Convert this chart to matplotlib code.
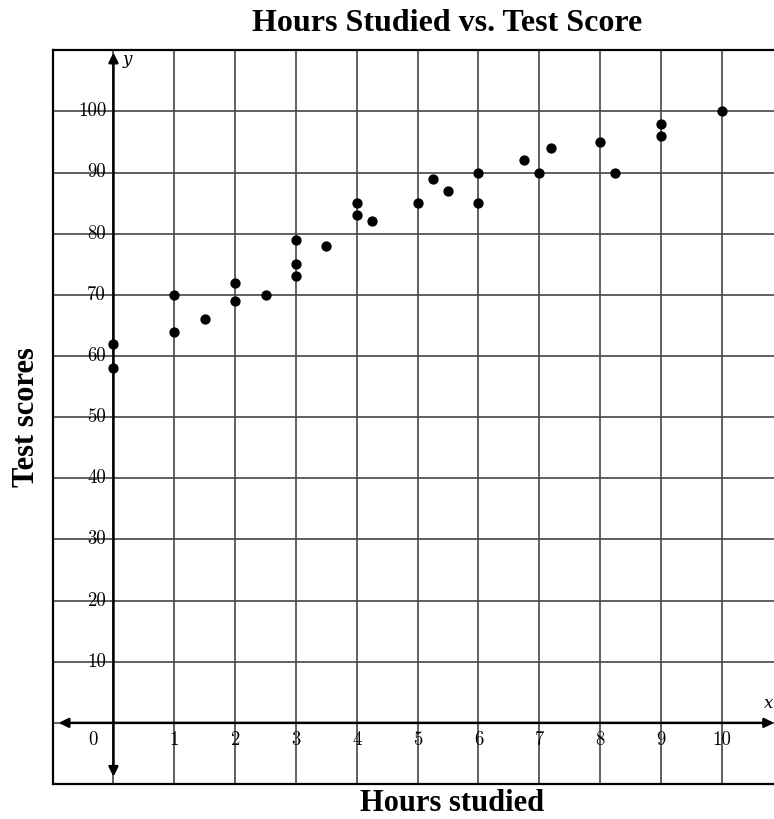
import matplotlib
matplotlib.use("Agg")
import matplotlib.pyplot as plt

# data
hours = [0, 0, 1, 1, 1.5, 2, 2, 2.5, 3, 3, 3, 3.5, 4, 4, 4.25,
         5, 5.25, 5.5, 6, 6, 6.75, 7, 7.2, 8, 8.25, 9, 9, 10]
scores = [62, 58, 70, 64, 66, 72, 69, 70, 79, 75, 73, 78, 85, 83, 82,
          85, 89, 87, 90, 85, 92, 90, 94, 95, 90, 98, 96, 100]

x_ticks = [0, 1, 2, 3, 4, 5, 6, 7, 8, 9, 10]
y_ticks = [10, 20, 30, 40, 50, 60, 70, 80, 90, 100]

title = "Hours Studied vs. Test Score"
xlabel = "Hours studied"
ylabel = "Test scores"

fig = plt.figure(figsize=(7.74, 8.19), dpi=100)
ax = fig.add_axes([0.068, 0.0427, 0.932, 0.896])
ax.set_xlim(-1, 10.86)
ax.set_ylim(-10, 110)

# grid
ax.set_xticks(range(-1, 11))
ax.set_yticks(range(-10, 111, 10))
ax.grid(True, color="#454545", lw=1.2)
ax.tick_params(length=0, labelbottom=False, labelleft=False)
for side in ["left", "top", "bottom"]:
    ax.spines[side].set_linewidth(1.6)
    ax.spines[side].set_color("black")
ax.spines["right"].set_visible(False)

# axes with arrows
ax.annotate("", xy=(10.86, 0), xytext=(-0.9, 0),
            arrowprops=dict(arrowstyle="<|-|>", color="black", lw=1.8,
                            mutation_scale=14, shrinkA=0, shrinkB=0))
ax.annotate("", xy=(0, 109.6), xytext=(0, -8.8),
            arrowprops=dict(arrowstyle="<|-|>", color="black", lw=1.8,
                            mutation_scale=14, shrinkA=0, shrinkB=0))
ax.text(0.15, 108.4, "y", fontsize=12, family="DejaVu Serif", style="italic",
        ha="left", va="center")
ax.text(10.85, 3.2, "x", fontsize=12, family="DejaVu Serif", style="italic",
        ha="right", va="center")

# tick labels
for v in y_ticks:
    ax.text(-0.12, v, str(v), fontsize=13.5, family="cmr10",
            ha="right", va="center")
for v in x_ticks:
    xp = -0.34 if v == 0 else v
    ax.text(xp, -2.8, str(v), fontsize=13.5, family="cmr10",
            ha="center", va="center")

# points
ax.plot(hours, scores, "o", color="black", ms=6.4, zorder=5)

fig.text(447 / 774, 1 - 31 / 819, title, fontsize=23, fontweight="bold",
         family="Liberation Serif", ha="center", va="baseline")
fig.text(452 / 774, 1 - 818 / 819, xlabel, fontsize=22, fontweight="bold",
         family="Liberation Serif", ha="center", va="bottom")
fig.text(26 / 774, 1 - 417 / 819, ylabel, fontsize=22, fontweight="bold",
         family="Liberation Serif", ha="center", va="center", rotation=90)

fig.savefig("out.png", dpi=100)
